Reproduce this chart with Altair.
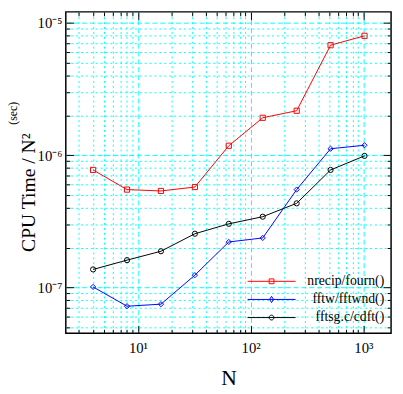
import altair as alt
import pandas as pd

# ---------------- data ----------------
N = [4, 8, 16, 32, 64, 128, 256, 512, 1024]
nrecip = [7.74e-7, 5.50e-7, 5.37e-7, 5.75e-7, 1.18e-6, 1.92e-6, 2.17e-6, 6.79e-6, 8.00e-6]
fftw = [1.01e-7, 7.22e-8, 7.48e-8, 1.24e-7, 2.21e-7, 2.37e-7, 5.50e-7, 1.12e-6, 1.19e-6]
fftsg = [1.37e-7, 1.61e-7, 1.88e-7, 2.55e-7, 3.03e-7, 3.43e-7, 4.33e-7, 7.74e-7, 9.89e-7]

series_names = ["nrecip/fourn()", "fftw/fftwnd()", "fftsg.c/cdft()"]
series_values = [nrecip, fftw, fftsg]
series_colors = ["#ff0000", "#0000ff", "#000000"]
series_markers = ["square", "diamond", "circle"]
legend_paths = [
    "M-1,0H1M-0.1,-0.1H0.1V0.1H-0.1Z",
    "M-1,0H1M-0.08,0L0,-0.13L0.08,0L0,0.13Z",
    "M-1,0H1M0.1,0A0.1,0.1 0 1,1 -0.1,0A0.1,0.1 0 1,1 0.1,0Z",
]

x_multipliers = [1, 2, 3, 4, 5, 6, 7, 8, 9]
x_ticks = [m * 10 ** e for e in [0, 1, 2, 3] for m in x_multipliers]
x_ticks = [v for v in x_ticks if 2.29 <= v <= 1762]
y_ticks = [m * 10.0 ** e for e in [-8, -7, -6, -5] for m in x_multipliers]
y_ticks = [v for v in y_ticks if 4.51e-8 <= v <= 1.213e-5]

x_domain = [2.29, 1762]
y_domain = [4.51e-8, 1.213e-5]

x_title = "N"
y_title = "CPU Time / N\u00b2"
y_unit = "(sec)"

rows = []
for name, vals in zip(series_names, series_values):
    for n, v in zip(N, vals):
        rows.append({"N": n, "time": v, "series": name})
df = pd.DataFrame(rows)

W, H = 332, 328
SERIF = "Liberation Serif"

major = "abs(log(datum.value)/LN10 - round(log(datum.value)/LN10)) < 0.001"
exp_expr = "('' + round(log(datum.value)/LN10))"
for ch, s in [("-", "\u207b"), ("0", "\u2070"), ("1", "\u00b9"), ("2", "\u00b2"), ("3", "\u00b3"),
              ("4", "\u2074"), ("5", "\u2075"), ("6", "\u2076"), ("7", "\u2077"), ("8", "\u2078"), ("9", "\u2079")]:
    exp_expr = f"replace({exp_expr}, '{ch}', '{s}')"
label_expr = f"({major}) ? '10' + {exp_expr} : ''"

grid_dash = {"condition": {"test": major, "value": [5, 3]}, "value": [2, 3]}
tick_size = {"condition": {"test": major, "value": 8}, "value": 4}

x_scale = alt.Scale(type="log", domain=x_domain, nice=False)
y_scale = alt.Scale(type="log", domain=y_domain, nice=False)
color_scale = alt.Scale(domain=series_names, range=series_colors)

leg = alt.Legend(
    orient="none", legendX=185, legendY=267, title=None, labelFont=SERIF,
    labelFontSize=14, labelColor="black", symbolSize=2401, symbolStrokeWidth=1,
    clipHeight=16, rowPadding=2.5, labelOffset=90, labelAlign="right", padding=0,
    labelLimit=0, symbolOpacity=1,
)

x_axis_main = alt.Axis(
    orient="bottom", values=x_ticks, labelExpr=label_expr, labelFont=SERIF,
    labelFontSize=15, labelColor="black", labelPadding=8, labelOverlap=False,
    labelFlush=False, ticks=False, domain=False, grid=True, gridColor="#00ffff",
    gridOpacity=1, gridWidth=1, gridDash=grid_dash, title=x_title, titleFont=SERIF,
    titleFontSize=22, titleFontWeight="normal", titleColor="black", titlePadding=12,
)
y_axis_main = alt.Axis(
    orient="left", values=y_ticks, labelExpr=label_expr, labelFont=SERIF,
    labelFontSize=15, labelColor="black", labelPadding=4, labelOverlap=False,
    labelFlush=False, ticks=False, domain=False, grid=True, gridColor="#00ffff",
    gridOpacity=1, gridWidth=1, gridDash=grid_dash, title=y_title, titleFont=SERIF,
    titleFontSize=20, titleFontWeight="normal", titleColor="black",
    titleAngle=270, titleAlign="center", titleBaseline="middle", titleX=-38, titleY=184,
)
y_axis_unit = alt.Axis(
    orient="left", values=y_ticks, labels=False, ticks=False, domain=False, grid=False,
    title=y_unit, titleFont=SERIF, titleFontSize=12, titleFontWeight="normal",
    titleColor="black", titleAngle=270, titleAlign="center", titleBaseline="middle",
    titleX=-54, titleY=103,
)


def tick_axis(orient, values, offset):
    return alt.Axis(
        orient=orient, offset=offset, values=values, labels=False, domain=False,
        grid=False, ticks=True, tickColor="black", tickWidth=1, tickSize=tick_size,
        title=None,
    )


base = alt.Chart(df)

lines = base.mark_line(strokeWidth=1).encode(
    x=alt.X("N:Q", scale=x_scale, axis=x_axis_main),
    y=alt.Y("time:Q", scale=y_scale, axis=y_axis_main),
    color=alt.Color("series:N", scale=color_scale, legend=leg),
)

point_layers = []
for i, (name, marker) in enumerate(zip(series_names, series_markers)):
    if i == 0:
        xa = tick_axis("top", x_ticks, -H)
        ya = tick_axis("right", y_ticks, -W)
    elif i == 1:
        xa = None
        ya = y_axis_unit
    else:
        xa = None
        ya = None
    point_layers.append(
        base.transform_filter(alt.datum.series == name)
        .mark_point(shape=marker, filled=False, size=28, strokeWidth=1, opacity=1)
        .encode(
            x=alt.X("N:Q", scale=x_scale, axis=xa),
            y=alt.Y("time:Q", scale=y_scale, axis=ya),
            color=alt.Color("series:N", scale=color_scale, legend=leg),
        )
    )

legend_layer = base.mark_point(filled=False, strokeWidth=1, opacity=0).encode(
    x=alt.X("N:Q", scale=x_scale, axis=tick_axis("bottom", x_ticks, -H)),
    y=alt.Y("time:Q", scale=y_scale, axis=tick_axis("left", y_ticks, -W)),
    color=alt.Color("series:N", scale=color_scale, legend=leg),
    shape=alt.Shape("series:N", scale=alt.Scale(domain=series_names, range=legend_paths), legend=leg),
)

chart = (
    alt.layer(lines, *point_layers, legend_layer)
    .resolve_axis(x="independent", y="independent")
    .properties(
        width=W, height=H,
        autosize=alt.AutoSizeParams(type="none"),
        padding={"left": 59, "top": 0, "right": 4, "bottom": 56},
    )
    .configure(font=SERIF)
    .configure_view(stroke="black", strokeWidth=1.5)
)

chart.save("out.html", embed_options={"renderer": "svg", "actions": False})
